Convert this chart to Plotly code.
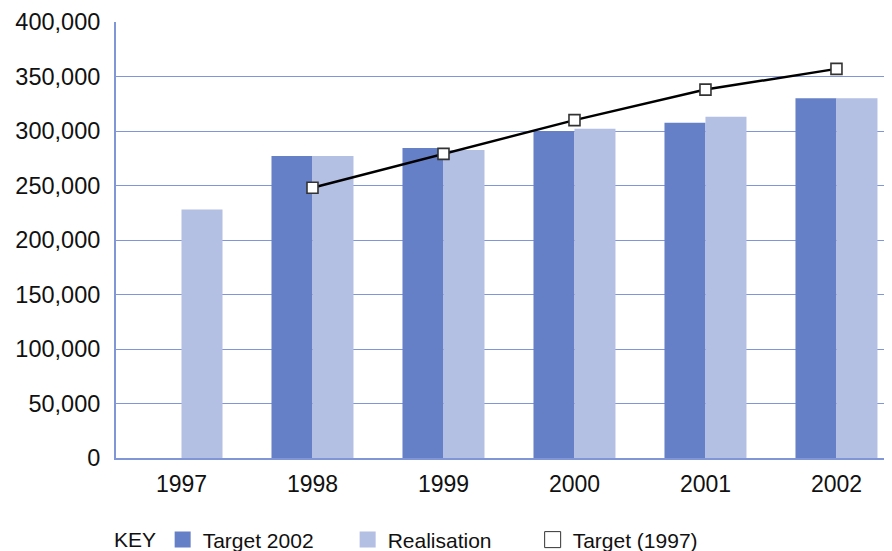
import plotly.graph_objects as go

years = ["1997", "1998", "1999", "2000", "2001", "2002"]
target_2002 = [None, 277000, 284500, 300000, 307500, 330000]
realisation = [228000, 277000, 282500, 302000, 313000, 330000]
target_1997 = [None, 248000, 279000, 310000, 338000, 357000]
y_ticks = [0, 50000, 100000, 150000, 200000, 250000, 300000, 350000, 400000]

DARK = "#6680C8"
LIGHT = "#B3BFE3"
GRID = "#8096D6"
FONT = "Liberation Sans"

fig = go.Figure()
fig.add_trace(go.Bar(x=years, y=target_2002, name="Target 2002",
                     marker=dict(color=DARK, line=dict(width=0)), showlegend=False))
fig.add_trace(go.Bar(x=years, y=realisation, name="Realisation",
                     marker=dict(color=LIGHT, line=dict(width=0)), showlegend=False))
fig.add_trace(go.Scatter(x=years, y=target_1997, name="Target (1997)", mode="lines+markers",
                         line=dict(color="black", width=2.5),
                         marker=dict(symbol="square", size=11, color="white",
                                     line=dict(color="#333333", width=1.6)),
                         showlegend=False))

# legend entries
for name, col, border in [("Target 2002", DARK, DARK), ("Realisation", LIGHT, LIGHT),
                          ("Target (1997)", "white", "#333333")]:
    fig.add_trace(go.Scatter(x=[None], y=[None], mode="markers", name=name,
                             marker=dict(symbol="square", size=17, color=col,
                                         line=dict(color=border, width=1 if col == "white" else 0))))

fig.update_layout(
    width=892, height=543,
    margin=dict(l=108, r=0, t=14, b=93, autoexpand=False),
    paper_bgcolor="white", plot_bgcolor="white",
    barmode="group", bargap=0.374, bargroupgap=0,
    font=dict(family=FONT, size=21, color="#111111"),
    showlegend=True,
    legend=dict(orientation="h", x=0.0595, xanchor="left", y=-0.188, yanchor="middle",
                entrywidth=140, entrywidthmode="pixels", font=dict(size=21),
                itemclick=False, tracegroupgap=0),
    xaxis=dict(type="category", range=[-0.5, 5.485], showgrid=False,
               showline=True, linecolor=GRID, linewidth=2,
               ticks="", ticklabelstandoff=4, tickfont=dict(size=23)),
    yaxis=dict(range=[0, 400000], tickvals=y_ticks, tickformat=",d",
               showgrid=True, gridcolor=GRID, gridwidth=1.3,
               showline=True, linecolor=GRID, linewidth=2, zeroline=False,
               ticks="", ticklabelstandoff=9, tickfont=dict(size=23.5)),
    annotations=[dict(text="KEY", xref="paper", yref="paper", x=-0.005, y=-0.188,
                      xanchor="left", yanchor="middle", showarrow=False,
                      font=dict(size=21, family=FONT))],
)

fig.write_html("out.html")
